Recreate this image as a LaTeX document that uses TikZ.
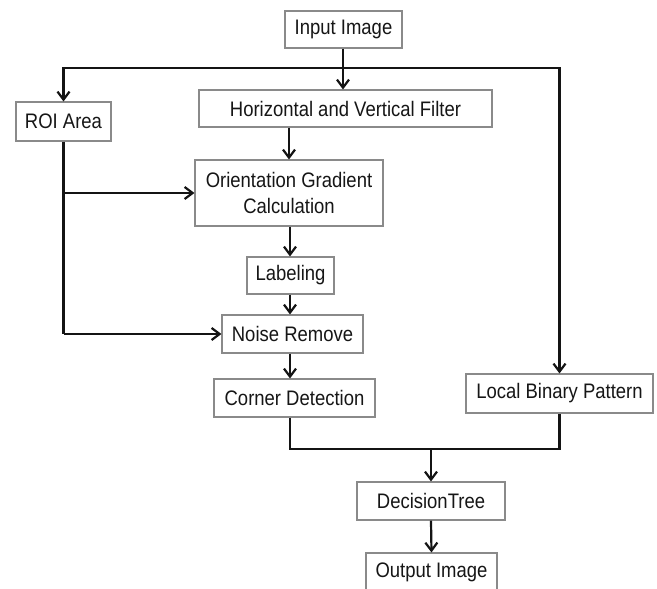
\documentclass[tikz,border=0pt]{standalone}
\usepackage{fontspec}
\setmainfont[FakeStretch=0.88]{Liberation Sans}
\usetikzlibrary{arrows.meta}
\definecolor{boxgray}{HTML}{8A8A8A}
\definecolor{txt}{HTML}{161616}
\begin{document}
\begin{tikzpicture}[x=1pt,y=-1pt,
  blk/.style={draw=boxgray,line width=1.1pt,fill=white,inner sep=0pt,text=txt,
    font=\fontsize{21}{26}\selectfont,align=center},
  conn/.style={line width=2.2pt,draw=black!92,line join=miter},
  arr/.style={conn,-{Straight Barb[length=8pt,width=12pt,line width=2.2pt]}}]
\clip (0,0) rectangle (657,589);
\fill[white] (0,0) rectangle (657,589);
\node[blk,minimum width=117pt,minimum height=37pt] (in) at (343.5,29.5) {Input Image};
\node[blk,minimum width=95pt,minimum height=39pt] (roi) at (63.5,121.5) {ROI Area};
\node[blk,minimum width=293pt,minimum height=37pt] (hv) at (345.5,108.5) {Horizontal and Vertical Filter};
\node[blk,minimum width=188pt,minimum height=66pt] (ogc) at (289,193) {Orientation Gradient\\Calculation};
\node[blk,minimum width=87pt,minimum height=37pt] (lab) at (290.5,275.5) {Labeling};
\node[blk,minimum width=141pt,minimum height=38pt] (nr) at (292.5,334) {Noise Remove};
\node[blk,minimum width=161pt,minimum height=38pt] (cd) at (294.5,398) {Corner Detection};
\node[blk,minimum width=187pt,minimum height=39pt] (lbp) at (559.5,393.5) {Local Binary Pattern};
\node[blk,minimum width=148pt,minimum height=38pt] (dt) at (431,501) {DecisionTree};
\node[blk,minimum width=131pt,minimum height=38pt] (out) at (431.5,572) {Output Image};
\coordinate (J) at (343,68);
\coordinate (M) at (431,449);
% top distribution
\draw[arr] (in.south -| J) -- (J |- hv.north);
\draw[arr] (J) -| (roi.north);
\draw[arr] (J) -| (lbp.north);
% main chain
\draw[arr] (hv.south -| ogc.north) -- (ogc.north);
\draw[arr] (ogc.south -| 290,0) -- (290,0 |- lab.north);
\draw[arr] (lab.south -| 290,0) -- (290,0 |- nr.north);
\draw[arr] (nr.south -| 290,0) -- (290,0 |- cd.north);
% ROI branches
\draw[conn] (roi.south) -- (roi.south |- nr.west);
\draw[arr] (roi.south |- nr.west) -- (nr.west);
\draw[arr] (roi.south |- ogc.west) -- (ogc.west);
% merge
\draw[conn] (cd.south -| 290,0) |- (M) -| (lbp.south);
\draw[arr] (M) -- (dt.north);
\draw[arr] (dt.south) -- (out.north);
\end{tikzpicture}
\end{document}
